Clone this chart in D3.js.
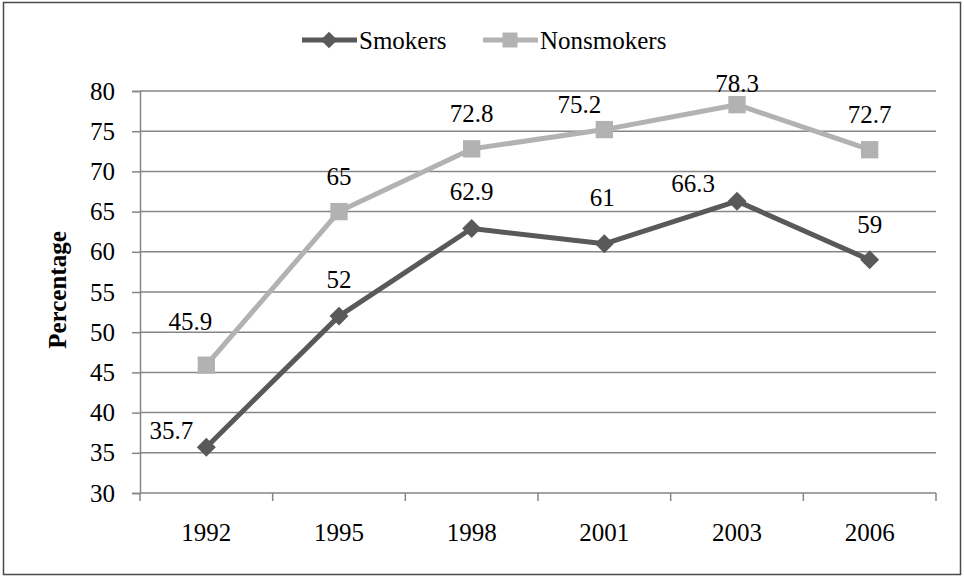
<!DOCTYPE html>
<html>
<head>
<meta charset="utf-8">
<script src="https://cdn.jsdelivr.net/npm/d3@7"></script>
<style>
  html, body { margin: 0; padding: 0; background: #fff; }
  svg { display: block; }
  svg text { font-family: "Liberation Serif", "Times New Roman", serif; }
</style>
</head>
<body>
<svg id="chart" width="964" height="577"></svg>
<script>
// Survey years and percentages per group
const years = ["1992", "1995", "1998", "2001", "2003", "2006"];
const smokers = [35.7, 52, 62.9, 61, 66.3, 59];
const nonsmokers = [45.9, 65, 72.8, 75.2, 78.3, 72.7];
const yTicks = [30, 35, 40, 45, 50, 55, 60, 65, 70, 75, 80];

// Hand-placed data label offsets (px) relative to each point
const smokerLabelOffset = [[-35, -8], [0, -28], [0, -28], [-2, -38], [-44, -9], [0, -27]];
const nonsmokerLabelOffset = [[-16, -35], [0, -27], [0, -27], [-25, -17], [0, -13], [0, -27]];

const FONT = '"Liberation Serif", "Times New Roman", serif';
const svg = d3.select("#chart");
const W = 964, H = 577;
const plot = { left: 140, right: 936, top: 91, bottom: 493 };

const x = d3.scaleBand().domain(years).range([plot.left, plot.right]);
const y = d3.scaleLinear().domain([30, 80]).range([plot.bottom, plot.top]);
const cx = d => x(d) + x.bandwidth() / 2;

const gridColor = "#868686";

// Outer frame
svg.append("rect")
  .attr("x", 3.5).attr("y", 2.5).attr("width", W - 7).attr("height", H - 5)
  .attr("fill", "#fff").attr("stroke", "#4a4a4a").attr("stroke-width", 1.5);

// Horizontal gridlines
svg.append("g").selectAll("line").data(yTicks.slice(1)).join("line")
  .attr("x1", plot.left).attr("x2", plot.right)
  .attr("y1", d => y(d)).attr("y2", d => y(d))
  .attr("stroke", gridColor).attr("stroke-width", 1.5);

// Y axis
const yAxis = svg.append("g")
  .attr("transform", `translate(${plot.left},0)`)
  .call(d3.axisLeft(y).tickValues(yTicks).tickSize(8).tickPadding(17))
  .attr("font-family", FONT);
yAxis.select(".domain").attr("stroke", gridColor).attr("stroke-width", 1.5);
yAxis.selectAll(".tick line").attr("stroke", gridColor).attr("stroke-width", 1.5);
yAxis.selectAll(".tick text")
  .attr("font-family", FONT)
  .attr("font-size", 25).attr("fill", "#000");

// X axis with ticks between categories
const xAxis = svg.append("g").attr("transform", `translate(0,${plot.bottom})`);
xAxis.append("line")
  .attr("x1", plot.left).attr("x2", plot.right)
  .attr("stroke", gridColor).attr("stroke-width", 1.5);
const boundaries = d3.range(years.length + 1).map(i => plot.left + i * x.step());
xAxis.selectAll("line.tk").data(boundaries).join("line").attr("class", "tk")
  .attr("x1", d => d).attr("x2", d => d).attr("y1", 0).attr("y2", 8)
  .attr("stroke", gridColor).attr("stroke-width", 1.5);
xAxis.selectAll("text").data(years).join("text")
  .attr("x", d => cx(d)).attr("y", 48)
  .attr("text-anchor", "middle").attr("font-family", FONT)
  .attr("font-size", 25).attr("fill", "#000")
  .text(d => d);

// Y axis title
svg.append("text")
  .attr("transform", `translate(66,290) rotate(-90)`)
  .attr("text-anchor", "middle").attr("font-family", FONT)
  .attr("font-size", 25).attr("font-weight", "bold")
  .text("Percentage");

// Diamonds are squares turned by 45 degrees
const series = [
  { name: "Smokers", values: smokers, color: "#595959", rot: 45, size: 180, offsets: smokerLabelOffset },
  { name: "Nonsmokers", values: nonsmokers, color: "#b2b2b2", rot: 0, size: 300, offsets: nonsmokerLabelOffset }
];

const line = d3.line().x(d => cx(d.year)).y(d => y(d.v));

series.forEach(s => {
  const pts = s.values.map((v, i) => ({ year: years[i], v, off: s.offsets[i] }));
  const g = svg.append("g");
  g.append("path").datum(pts)
    .attr("d", line).attr("fill", "none")
    .attr("stroke", s.color).attr("stroke-width", 5).attr("stroke-linejoin", "round");
  g.selectAll("path.mk").data(pts).join("path").attr("class", "mk")
    .attr("transform", d => `translate(${cx(d.year)},${y(d.v)}) rotate(${s.rot})`)
    .attr("d", d3.symbol().type(d3.symbolSquare).size(s.size)).attr("fill", s.color);
  g.selectAll("text").data(pts).join("text")
    .attr("x", d => cx(d.year) + d.off[0]).attr("y", d => y(d.v) + d.off[1])
    .attr("text-anchor", "middle").attr("font-family", FONT)
    .attr("font-size", 25).attr("fill", "#000")
    .text(d => d.v);
});

// Legend
const legend = svg.append("g");
const legendItems = [
  { s: series[0], x0: 302 },
  { s: series[1], x0: 483 }
];
legendItems.forEach(({ s, x0 }) => {
  legend.append("line")
    .attr("x1", x0).attr("x2", x0 + 55).attr("y1", 40).attr("y2", 40)
    .attr("stroke", s.color).attr("stroke-width", 5);
  legend.append("path")
    .attr("transform", `translate(${x0 + 27},40) rotate(${s.rot})`)
    .attr("d", d3.symbol().type(d3.symbolSquare).size(s.size * 0.75)).attr("fill", s.color);
  legend.append("text")
    .attr("x", x0 + 57).attr("y", 49).attr("font-family", FONT)
    .attr("font-size", 25).attr("fill", "#000")
    .text(s.name);
});
</script>
</body>
</html>
